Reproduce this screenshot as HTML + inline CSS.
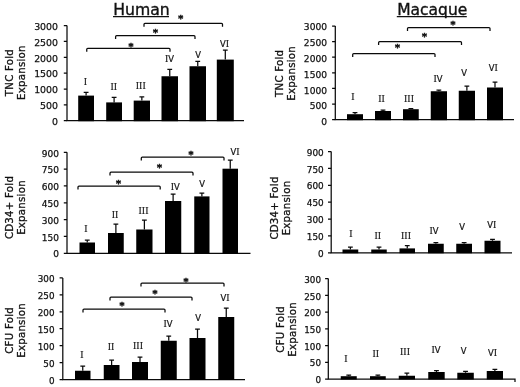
<!DOCTYPE html>
<html lang="en">
<head>
<meta charset="utf-8">
<title>Human vs Macaque fold expansion</title>
<style>
html,body{margin:0;padding:0;background:#fff;}
body{width:520px;height:387px;overflow:hidden;}
svg{display:block;filter:blur(0.3px);}
.tk{font-family:'DejaVu Sans','Liberation Sans',sans-serif;font-size:9.4px;fill:#111;stroke:#111;stroke-width:0.25px;}
.yl{font-family:'DejaVu Sans','Liberation Sans',sans-serif;font-size:10.2px;fill:#111;stroke:#111;stroke-width:0.3px;letter-spacing:0.25px;}
.rm{font-family:'DejaVu Sans','Liberation Sans',sans-serif;font-size:8.4px;fill:#111;stroke:#111;stroke-width:0.2px;}
.rm.ri,.ri{font-family:'DejaVu Serif','Liberation Serif',serif;}
.st{font-family:'DejaVu Sans','Liberation Sans',sans-serif;font-size:9.5px;font-weight:bold;fill:#111;stroke:#111;stroke-width:0.5px;}
.tt{font-family:'DejaVu Sans','Liberation Sans',sans-serif;font-size:15.7px;fill:#111;stroke:#111;stroke-width:0.35px;}
</style>
</head>
<body>
<svg width="520" height="387" viewBox="0 0 520 387">
<rect width="520" height="387" fill="#fff"/>
<text x="113.2" y="14.7" class="tt">Human</text>
<path d="M113 16.6H169" stroke="#111" stroke-width="1.3"/>
<text x="397.2" y="14.7" class="tt" style="font-size:15.5px">Macaque</text>
<path d="M396.8 16.6H466.8" stroke="#111" stroke-width="1.3"/>
<g>
<path d="M67 25.6V120.7H244" fill="none" stroke="#0a0a0a" stroke-width="1.25"/>
<text x="58" y="29.8" text-anchor="end" class="tk" style="font-size:9.4px">3000</text>
<text x="58" y="45.65" text-anchor="end" class="tk" style="font-size:9.4px">2500</text>
<text x="58" y="61.5" text-anchor="end" class="tk" style="font-size:9.4px">2000</text>
<text x="58" y="77.35" text-anchor="end" class="tk" style="font-size:9.4px">1500</text>
<text x="58" y="93.2" text-anchor="end" class="tk" style="font-size:9.4px">1000</text>
<text x="58" y="109.05" text-anchor="end" class="tk" style="font-size:9.4px">500</text>
<text x="58" y="124.9" text-anchor="end" class="tk" style="font-size:9.4px">0</text>
<path d="M63.8 25.6H67M63.8 41.45H67M63.8 57.3H67M63.8 73.15H67M63.8 89H67M63.8 104.85H67M63.8 120.7H67" fill="none" stroke="#0a0a0a" stroke-width="1.25"/>
<text transform="translate(13 72.6) rotate(-90)" text-anchor="middle" class="yl">TNC Fold</text>
<text transform="translate(25 72.6) rotate(-90)" text-anchor="middle" class="yl">Expansion</text>
<rect x="78.2" y="95.6" width="15.8" height="25.6" fill="#000"/>
<path d="M86.1 95.6V92.3M83.7 92.3H88.5" fill="none" stroke="#0a0a0a" stroke-width="1.25"/>
<text x="85.3" y="84.5" text-anchor="middle" class="rm ri">I</text>
<rect x="106.2" y="102.4" width="15.8" height="18.8" fill="#000"/>
<path d="M114.1 102.4V97.3M111.7 97.3H116.5" fill="none" stroke="#0a0a0a" stroke-width="1.25"/>
<text x="113.75" y="89.5" text-anchor="middle" class="rm ri">II</text>
<rect x="133.7" y="100.6" width="16.3" height="20.6" fill="#000"/>
<path d="M141.85 100.6V96.9M139.45 96.9H144.25" fill="none" stroke="#0a0a0a" stroke-width="1.25"/>
<text x="140.75" y="88.5" text-anchor="middle" class="rm ri">III</text>
<rect x="161.5" y="76.25" width="16.5" height="44.95" fill="#000"/>
<path d="M169.75 76.25V69.25M167.35 69.25H172.15" fill="none" stroke="#0a0a0a" stroke-width="1.25"/>
<text x="169.5" y="62.4" text-anchor="middle" class="rm"><tspan class="ri">I</tspan>V</text>
<rect x="189.5" y="66.25" width="16.5" height="54.95" fill="#000"/>
<path d="M197.75 66.25V61.25M195.35 61.25H200.15" fill="none" stroke="#0a0a0a" stroke-width="1.25"/>
<text x="198" y="58.3" text-anchor="middle" class="rm">V</text>
<rect x="216.8" y="59.6" width="17" height="61.6" fill="#000"/>
<path d="M225.3 59.6V50M222.9 50H227.7" fill="none" stroke="#0a0a0a" stroke-width="1.25"/>
<text x="224.5" y="46.8" text-anchor="middle" class="rm">V<tspan class="ri">I</tspan></text>
<path d="M144 26.75V24.35Q144 23.35 145 23.35H221.5Q222.5 23.35 222.5 24.35V26.75" fill="none" stroke="#0a0a0a" stroke-width="1.25"/>
<text x="180.7" y="22.2" text-anchor="middle" class="st">*</text>
<path d="M115.6 39.1V36.7Q115.6 35.7 116.6 35.7H194Q195 35.7 195 36.7V39.1" fill="none" stroke="#0a0a0a" stroke-width="1.25"/>
<text x="155.5" y="35.55" text-anchor="middle" class="st">*</text>
<path d="M86.75 51.7V49.3Q86.75 48.3 87.75 48.3H169Q170 48.3 170 49.3V51.7" fill="none" stroke="#0a0a0a" stroke-width="1.25"/>
<text x="131" y="49.8" text-anchor="middle" class="st">*</text>
</g>
<g>
<path d="M67 152.3V253.25H250.5" fill="none" stroke="#0a0a0a" stroke-width="1.25"/>
<text x="59" y="156.5" text-anchor="end" class="tk" style="font-size:9.0px">900</text>
<text x="59" y="173.32" text-anchor="end" class="tk" style="font-size:9.0px">750</text>
<text x="59" y="190.15" text-anchor="end" class="tk" style="font-size:9.0px">600</text>
<text x="59" y="206.97" text-anchor="end" class="tk" style="font-size:9.0px">450</text>
<text x="59" y="223.8" text-anchor="end" class="tk" style="font-size:9.0px">300</text>
<text x="59" y="240.62" text-anchor="end" class="tk" style="font-size:9.0px">150</text>
<text x="59" y="257.45" text-anchor="end" class="tk" style="font-size:9.0px">0</text>
<path d="M63.8 152.3H67M63.8 169.12H67M63.8 185.95H67M63.8 202.78H67M63.8 219.6H67M63.8 236.43H67M63.8 253.25H67" fill="none" stroke="#0a0a0a" stroke-width="1.25"/>
<text transform="translate(13 207.5) rotate(-90)" text-anchor="middle" class="yl">CD34+ Fold</text>
<text transform="translate(25 207.5) rotate(-90)" text-anchor="middle" class="yl">Expansion</text>
<rect x="79.5" y="242.5" width="15.5" height="11.25" fill="#000"/>
<path d="M87.25 242.5V240M84.85 240H89.65" fill="none" stroke="#0a0a0a" stroke-width="1.25"/>
<text x="86" y="232" text-anchor="middle" class="rm ri">I</text>
<rect x="108" y="233" width="15.75" height="20.75" fill="#000"/>
<path d="M115.88 233V224M113.47 224H118.28" fill="none" stroke="#0a0a0a" stroke-width="1.25"/>
<text x="115" y="218" text-anchor="middle" class="rm ri">II</text>
<rect x="136.25" y="229.5" width="16.25" height="24.25" fill="#000"/>
<path d="M144.38 229.5V220M141.97 220H146.78" fill="none" stroke="#0a0a0a" stroke-width="1.25"/>
<text x="143.5" y="214.2" text-anchor="middle" class="rm ri">III</text>
<rect x="165" y="201" width="16.25" height="52.75" fill="#000"/>
<path d="M173.12 201V194M170.72 194H175.53" fill="none" stroke="#0a0a0a" stroke-width="1.25"/>
<text x="175.2" y="189.5" text-anchor="middle" class="rm"><tspan class="ri">I</tspan>V</text>
<rect x="194.25" y="196.4" width="15.25" height="57.35" fill="#000"/>
<path d="M201.88 196.4V193M199.47 193H204.28" fill="none" stroke="#0a0a0a" stroke-width="1.25"/>
<text x="202" y="187" text-anchor="middle" class="rm">V</text>
<rect x="222.5" y="168.7" width="15.5" height="85.05" fill="#000"/>
<path d="M230.25 168.7V160M227.85 160H232.65" fill="none" stroke="#0a0a0a" stroke-width="1.25"/>
<text x="235" y="155" text-anchor="middle" class="rm">V<tspan class="ri">I</tspan></text>
<path d="M141.3 160.4V158Q141.3 157 142.3 157H223Q224 157 224 158V160.4" fill="none" stroke="#0a0a0a" stroke-width="1.25"/>
<text x="191" y="158.3" text-anchor="middle" class="st">*</text>
<path d="M110 175.6V173.2Q110 172.2 111 172.2H192Q193 172.2 193 173.2V175.6" fill="none" stroke="#0a0a0a" stroke-width="1.25"/>
<text x="159.6" y="170.5" text-anchor="middle" class="st">*</text>
<path d="M78 189.4V187Q78 186 79 186H159.2Q160.2 186 160.2 187V189.4" fill="none" stroke="#0a0a0a" stroke-width="1.25"/>
<text x="118.4" y="186.7" text-anchor="middle" class="st">*</text>
</g>
<g>
<path d="M62.8 277.9V379.5H245" fill="none" stroke="#0a0a0a" stroke-width="1.25"/>
<text x="54.5" y="282.1" text-anchor="end" class="tk" style="font-size:8.8px">300</text>
<text x="54.5" y="299.03" text-anchor="end" class="tk" style="font-size:8.8px">250</text>
<text x="54.5" y="315.97" text-anchor="end" class="tk" style="font-size:8.8px">200</text>
<text x="54.5" y="332.9" text-anchor="end" class="tk" style="font-size:8.8px">150</text>
<text x="54.5" y="349.83" text-anchor="end" class="tk" style="font-size:8.8px">100</text>
<text x="54.5" y="366.77" text-anchor="end" class="tk" style="font-size:8.8px">50</text>
<text x="54.5" y="383.7" text-anchor="end" class="tk" style="font-size:8.8px">0</text>
<path d="M59.6 277.9H62.8M59.6 294.83H62.8M59.6 311.77H62.8M59.6 328.7H62.8M59.6 345.63H62.8M59.6 362.57H62.8M59.6 379.5H62.8" fill="none" stroke="#0a0a0a" stroke-width="1.25"/>
<text transform="translate(13 330.4) rotate(-90)" text-anchor="middle" class="yl">CFU Fold</text>
<text transform="translate(25 330.4) rotate(-90)" text-anchor="middle" class="yl">Expansion</text>
<rect x="75" y="370.75" width="15.5" height="9.25" fill="#000"/>
<path d="M82.75 370.75V366M80.35 366H85.15" fill="none" stroke="#0a0a0a" stroke-width="1.25"/>
<text x="82" y="358" text-anchor="middle" class="rm ri">I</text>
<rect x="103.75" y="365" width="15.75" height="15" fill="#000"/>
<path d="M111.62 365V360M109.22 360H114.03" fill="none" stroke="#0a0a0a" stroke-width="1.25"/>
<text x="111" y="350" text-anchor="middle" class="rm ri">II</text>
<rect x="132" y="362" width="16" height="18" fill="#000"/>
<path d="M140 362V357M137.6 357H142.4" fill="none" stroke="#0a0a0a" stroke-width="1.25"/>
<text x="138" y="349" text-anchor="middle" class="rm ri">III</text>
<rect x="160.75" y="340.75" width="16" height="39.25" fill="#000"/>
<path d="M168.75 340.75V336M166.35 336H171.15" fill="none" stroke="#0a0a0a" stroke-width="1.25"/>
<text x="168" y="327" text-anchor="middle" class="rm"><tspan class="ri">I</tspan>V</text>
<rect x="189.5" y="338" width="16" height="42" fill="#000"/>
<path d="M197.5 338V329M195.1 329H199.9" fill="none" stroke="#0a0a0a" stroke-width="1.25"/>
<text x="198" y="321" text-anchor="middle" class="rm">V</text>
<rect x="218.25" y="317" width="16" height="63" fill="#000"/>
<path d="M226.25 317V308M223.85 308H228.65" fill="none" stroke="#0a0a0a" stroke-width="1.25"/>
<text x="225" y="300.7" text-anchor="middle" class="rm">V<tspan class="ri">I</tspan></text>
<path d="M141 286.4V284Q141 283 142 283H223Q224 283 224 284V286.4" fill="none" stroke="#0a0a0a" stroke-width="1.25"/>
<text x="186" y="284.8" text-anchor="middle" class="st">*</text>
<path d="M110 300.4V298Q110 297 111 297H191Q192 297 192 298V300.4" fill="none" stroke="#0a0a0a" stroke-width="1.25"/>
<text x="155" y="296.8" text-anchor="middle" class="st">*</text>
<path d="M83 312.4V310Q83 309 84 309H164Q165 309 165 310V312.4" fill="none" stroke="#0a0a0a" stroke-width="1.25"/>
<text x="122" y="308.8" text-anchor="middle" class="st">*</text>
</g>
<g>
<path d="M335.3 26V119.7H514" fill="none" stroke="#0a0a0a" stroke-width="1.25"/>
<text x="327" y="29.7" text-anchor="end" class="tk" style="font-size:9.1px">3000</text>
<text x="327" y="46.32" text-anchor="end" class="tk" style="font-size:9.1px">2500</text>
<text x="327" y="62.23" text-anchor="end" class="tk" style="font-size:9.1px">2000</text>
<text x="327" y="77.85" text-anchor="end" class="tk" style="font-size:9.1px">1500</text>
<text x="327" y="93.57" text-anchor="end" class="tk" style="font-size:9.1px">1000</text>
<text x="327" y="109.18" text-anchor="end" class="tk" style="font-size:9.1px">500</text>
<text x="327" y="125.3" text-anchor="end" class="tk" style="font-size:9.1px">0</text>
<path d="M332.1 26H335.3M332.1 41.62H335.3M332.1 57.23H335.3M332.1 72.85H335.3M332.1 88.47H335.3M332.1 104.08H335.3M332.1 119.7H335.3" fill="none" stroke="#0a0a0a" stroke-width="1.25"/>
<text transform="translate(283.1 73.3) rotate(-90)" text-anchor="middle" class="yl">TNC Fold</text>
<text transform="translate(295.1 73.3) rotate(-90)" text-anchor="middle" class="yl">Expansion</text>
<rect x="347" y="114.2" width="16" height="6" fill="#000"/>
<path d="M355 114.2V112.6M352.6 112.6H357.4" fill="none" stroke="#0a0a0a" stroke-width="1.25"/>
<text x="353" y="100" text-anchor="middle" class="rm ri">I</text>
<rect x="375" y="111" width="16" height="9.2" fill="#000"/>
<path d="M383 111V110M380.6 110H385.4" fill="none" stroke="#0a0a0a" stroke-width="1.25"/>
<text x="381.5" y="101.7" text-anchor="middle" class="rm ri">II</text>
<rect x="403" y="109.2" width="15.75" height="11" fill="#000"/>
<path d="M410.88 109.2V108.5M408.48 108.5H413.27" fill="none" stroke="#0a0a0a" stroke-width="1.25"/>
<text x="409" y="102" text-anchor="middle" class="rm ri">III</text>
<rect x="430.75" y="91.25" width="16.25" height="28.95" fill="#000"/>
<path d="M438.88 91.25V90M436.48 90H441.27" fill="none" stroke="#0a0a0a" stroke-width="1.25"/>
<text x="438" y="82" text-anchor="middle" class="rm"><tspan class="ri">I</tspan>V</text>
<rect x="458.75" y="90.75" width="16.25" height="29.45" fill="#000"/>
<path d="M466.88 90.75V86M464.48 86H469.27" fill="none" stroke="#0a0a0a" stroke-width="1.25"/>
<text x="464" y="76" text-anchor="middle" class="rm">V</text>
<rect x="487" y="87.5" width="16" height="32.7" fill="#000"/>
<path d="M495 87.5V82M492.6 82H497.4" fill="none" stroke="#0a0a0a" stroke-width="1.25"/>
<text x="493.3" y="71.3" text-anchor="middle" class="rm">V<tspan class="ri">I</tspan></text>
<path d="M407.5 30.9V28.5Q407.5 27.5 408.5 27.5H489Q490 27.5 490 28.5V30.9" fill="none" stroke="#0a0a0a" stroke-width="1.25"/>
<text x="453" y="27.8" text-anchor="middle" class="st">*</text>
<path d="M378.6 45.1V42.7Q378.6 41.7 379.6 41.7H460.5Q461.5 41.7 461.5 42.7V45.1" fill="none" stroke="#0a0a0a" stroke-width="1.25"/>
<text x="424.5" y="39.6" text-anchor="middle" class="st">*</text>
<path d="M352.7 56.9V54.5Q352.7 53.5 353.7 53.5H434Q435 53.5 435 54.5V56.9" fill="none" stroke="#0a0a0a" stroke-width="1.25"/>
<text x="397.5" y="50.8" text-anchor="middle" class="st">*</text>
</g>
<g>
<path d="M331.2 151.5V252.75H512" fill="none" stroke="#0a0a0a" stroke-width="1.25"/>
<text x="323.7" y="155.7" text-anchor="end" class="tk" style="font-size:8.9px">900</text>
<text x="323.7" y="172.57" text-anchor="end" class="tk" style="font-size:8.9px">750</text>
<text x="323.7" y="189.45" text-anchor="end" class="tk" style="font-size:8.9px">600</text>
<text x="323.7" y="206.32" text-anchor="end" class="tk" style="font-size:8.9px">450</text>
<text x="323.7" y="223.2" text-anchor="end" class="tk" style="font-size:8.9px">300</text>
<text x="323.7" y="240.07" text-anchor="end" class="tk" style="font-size:8.9px">150</text>
<text x="323.7" y="256.95" text-anchor="end" class="tk" style="font-size:8.9px">0</text>
<path d="M328 151.5H331.2M328 168.38H331.2M328 185.25H331.2M328 202.12H331.2M328 219H331.2M328 235.88H331.2M328 252.75H331.2" fill="none" stroke="#0a0a0a" stroke-width="1.25"/>
<text transform="translate(277.5 208) rotate(-90)" text-anchor="middle" class="yl">CD34+ Fold</text>
<text transform="translate(289.5 208) rotate(-90)" text-anchor="middle" class="yl">Expansion</text>
<rect x="342.5" y="249.5" width="15.75" height="3.75" fill="#000"/>
<path d="M350.38 249.5V247M347.98 247H352.77" fill="none" stroke="#0a0a0a" stroke-width="1.25"/>
<text x="350.9" y="237.3" text-anchor="middle" class="rm ri">I</text>
<rect x="371.25" y="249.5" width="15.5" height="3.75" fill="#000"/>
<path d="M379 249.5V247M376.6 247H381.4" fill="none" stroke="#0a0a0a" stroke-width="1.25"/>
<text x="377.8" y="239.1" text-anchor="middle" class="rm ri">II</text>
<rect x="399.5" y="248.4" width="15.5" height="4.85" fill="#000"/>
<path d="M407.25 248.4V245.5M404.85 245.5H409.65" fill="none" stroke="#0a0a0a" stroke-width="1.25"/>
<text x="406" y="238.5" text-anchor="middle" class="rm ri">III</text>
<rect x="428" y="243.75" width="15.75" height="9.5" fill="#000"/>
<path d="M435.88 243.75V242.7M433.48 242.7H438.27" fill="none" stroke="#0a0a0a" stroke-width="1.25"/>
<text x="434" y="233.7" text-anchor="middle" class="rm"><tspan class="ri">I</tspan>V</text>
<rect x="456.25" y="243.75" width="15.75" height="9.5" fill="#000"/>
<path d="M464.12 243.75V242.5M461.73 242.5H466.52" fill="none" stroke="#0a0a0a" stroke-width="1.25"/>
<text x="462" y="230" text-anchor="middle" class="rm">V</text>
<rect x="484.5" y="240.75" width="16" height="12.5" fill="#000"/>
<path d="M492.5 240.75V239.4M490.1 239.4H494.9" fill="none" stroke="#0a0a0a" stroke-width="1.25"/>
<text x="491.7" y="228" text-anchor="middle" class="rm">V<tspan class="ri">I</tspan></text>
</g>
<g>
<path d="M328.3 278.6V379H515v3" fill="none" stroke="#0a0a0a" stroke-width="1.25"/>
<text x="321" y="282.8" text-anchor="end" class="tk" style="font-size:8.8px">300</text>
<text x="321" y="299.53" text-anchor="end" class="tk" style="font-size:8.8px">250</text>
<text x="321" y="316.27" text-anchor="end" class="tk" style="font-size:8.8px">200</text>
<text x="321" y="333" text-anchor="end" class="tk" style="font-size:8.8px">150</text>
<text x="321" y="349.73" text-anchor="end" class="tk" style="font-size:8.8px">100</text>
<text x="321" y="366.47" text-anchor="end" class="tk" style="font-size:8.8px">50</text>
<text x="321" y="383.2" text-anchor="end" class="tk" style="font-size:8.8px">0</text>
<path d="M325.1 278.6H328.3M325.1 295.33H328.3M325.1 312.07H328.3M325.1 328.8H328.3M325.1 345.53H328.3M325.1 362.27H328.3M325.1 379H328.3" fill="none" stroke="#0a0a0a" stroke-width="1.25"/>
<text transform="translate(283.6 329.3) rotate(-90)" text-anchor="middle" class="yl">CFU Fold</text>
<text transform="translate(295.6 329.3) rotate(-90)" text-anchor="middle" class="yl">Expansion</text>
<rect x="340.75" y="376.2" width="16" height="3.3" fill="#000"/>
<path d="M348.75 376.2V375M346.35 375H351.15" fill="none" stroke="#0a0a0a" stroke-width="1.25"/>
<text x="346" y="362.3" text-anchor="middle" class="rm ri">I</text>
<rect x="370" y="376.2" width="15.75" height="3.3" fill="#000"/>
<path d="M377.88 376.2V375M375.48 375H380.27" fill="none" stroke="#0a0a0a" stroke-width="1.25"/>
<text x="375.8" y="357.3" text-anchor="middle" class="rm ri">II</text>
<rect x="398.75" y="375.75" width="16.25" height="3.75" fill="#000"/>
<path d="M406.88 375.75V373M404.48 373H409.27" fill="none" stroke="#0a0a0a" stroke-width="1.25"/>
<text x="405" y="354.8" text-anchor="middle" class="rm ri">III</text>
<rect x="428.25" y="372" width="16.45" height="7.5" fill="#000"/>
<path d="M436.48 372V370.5M434.08 370.5H438.88" fill="none" stroke="#0a0a0a" stroke-width="1.25"/>
<text x="436" y="352.7" text-anchor="middle" class="rm"><tspan class="ri">I</tspan>V</text>
<rect x="457.3" y="372.75" width="16.5" height="6.75" fill="#000"/>
<path d="M465.55 372.75V371.4M463.15 371.4H467.95" fill="none" stroke="#0a0a0a" stroke-width="1.25"/>
<text x="463.7" y="354.3" text-anchor="middle" class="rm">V</text>
<rect x="486.75" y="371" width="16.25" height="8.5" fill="#000"/>
<path d="M494.88 371V369.4M492.48 369.4H497.27" fill="none" stroke="#0a0a0a" stroke-width="1.25"/>
<text x="492.5" y="355.5" text-anchor="middle" class="rm">V<tspan class="ri">I</tspan></text>
</g>
</svg>
</body>
</html>
